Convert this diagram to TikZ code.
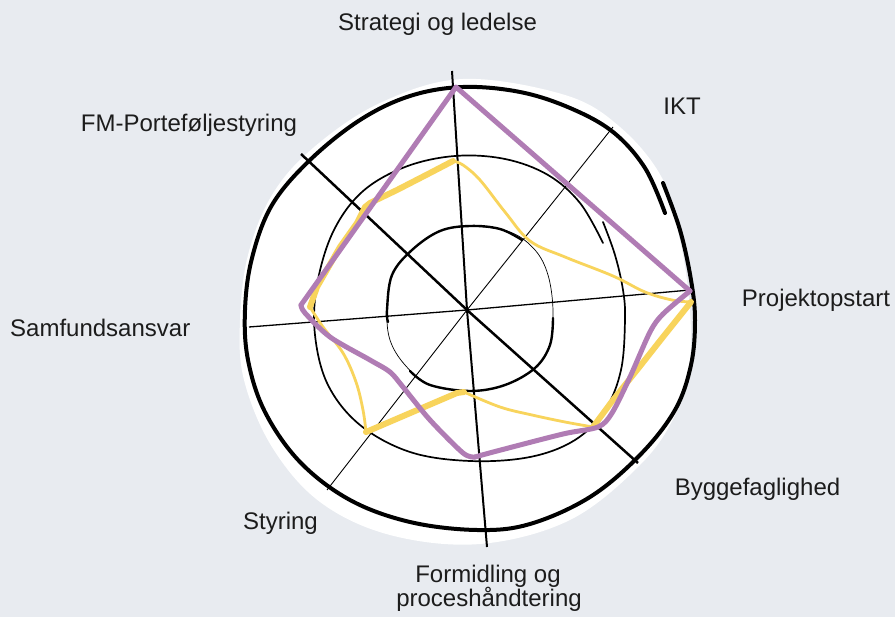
\documentclass[tikz,border=0pt]{standalone}
\usepackage{fontspec}
\setmainfont{Liberation Sans}
\definecolor{bgc}{HTML}{E8EBF0}
\definecolor{txtc}{HTML}{1C1C1C}
\definecolor{yelc}{HTML}{F8D45C}
\definecolor{purc}{HTML}{B07CB4}
\begin{document}
\begin{tikzpicture}[x=1pt,y=-1pt,
  lbl/.style={text=txtc,font=\fontsize{24}{28}\selectfont,inner sep=0pt,anchor=base},
  ringline/.style={draw=black,line cap=round,line join=round},
  axisline/.style={draw=black,line cap=butt},
  yelthick/.style={draw=yelc,line width=6pt,line cap=round,line join=round},
  yelthin/.style={draw=yelc,line width=2.8pt,line cap=round,line join=round},
  purline/.style={draw=purc,line width=5pt,line cap=round,line join=round}]
\fill[bgc] (0,0) rectangle (895,617);
\useasboundingbox (0,0) rectangle (895,617);
% white blob
\fill[white] plot[smooth cycle,tension=0.6] coordinates {(463,79) (565,95) (620,127) (662,178) (680,240) (689,300) (690,360) (675,415) (640,465) (570,520) (480,544) (390,535) (320,502) (272,447) (244,380) (240,320) (248,255) (272,195) (313,148) (380,103)};
% outer ring
\draw[ringline,line width=4pt] plot[smooth,tension=0.6] coordinates {(663,183) (680,230) (691,280) (695,320) (691,365) (675,410) (640,455) (590,497) (530,524) (477,530) (410,522) (350,500) (300,462) (265,412) (248,360) (245,310) (252,258) (272,205) (310,160) (360,120) (410,96) (463,87) (520,92) (570,108) (613,132) (645,168) (665,213)};
% middle ring
\draw[ringline,line width=1.7pt] plot[smooth,tension=0.6] coordinates {(603,222) (615,255) (623,290) (625,320) (621,370) (605,410) (575,440) (530,457) (470,461) (410,452) (360,425) (328,385) (315,335) (317,285) (333,232) (362,192) (405,167) (455,156) (505,159) (548,175) (580,203) (603,243)};
% inner ring
\draw[ringline,line width=0.7pt] plot[smooth cycle,tension=0.6] coordinates {(470,226) (510,232) (535,250) (548,275) (553,310) (550,345) (535,368) (505,385) (470,391) (430,385) (405,365) (390,340) (387,310) (392,275) (412,250) (440,231)};
\draw[ringline,line width=2.4pt] plot[smooth,tension=0.6] coordinates {(388,322) (387,310) (392,275) (412,250) (440,231) (470,226) (500,229) (522,240)};
\draw[ringline,line width=2.4pt] plot[smooth,tension=0.6] coordinates {(553,318) (550,345) (535,368) (505,385) (470,391) (430,385) (410,371)};
% axes
\coordinate (c) at (467,310);
\coordinate (aS) at (452,71);
\coordinate (aF) at (487,547);
\coordinate (aL) at (249,327);
\coordinate (aR) at (690,290);
\coordinate (aFM) at (301,154);
\coordinate (aB) at (638,463);
\coordinate (aI) at (613,127);
\coordinate (aSt) at (327,490);
\draw[axisline,line width=2pt] (aS) -- (c) -- (aF);
\draw[axisline,line width=1.3pt] (aL) -- (c) -- (aR);
\draw[axisline,line width=2.5pt] (aFM) -- (c) -- (aB);
\draw[axisline,line width=0.9pt] (aI) -- (c) -- (aSt);
% yellow series
\draw[yelthick] (453,161) -- (430,173) -- (397,190) -- (370,203) -- (365,207) -- (357,223) -- (340,247) -- (317,287) -- (310,307);
\draw[yelthin] plot[smooth,tension=0.6] coordinates {(310,307) (323,327) (343,353) (356,382) (363,410) (366,432)};
\draw[yelthick] (366,432) -- (457,393) -- (464,392);
\draw[yelthin] plot[smooth,tension=0.6] coordinates {(464,392) (500,407) (532,415) (565,422) (593,427)};
\draw[yelthick] (593,427) -- (613,400) -- (637,370) -- (663,337) -- (691,302);
\draw[yelthin] plot[smooth,tension=0.6] coordinates {(691,302) (672,300) (645,292) (613,276) (565,257) (530,241) (505,212) (480,180) (463,165) (453,161)};
% purple series
\draw[purline] (301,305) -- (456,87) -- (690,291);
\draw[purline] plot[smooth,tension=0.5] coordinates {(690,291) (663,314) (650,332) (630,377) (612,413) (598,427) (563,434) (497,451) (475,457)};
\draw[purline] plot[smooth,tension=0.5] coordinates {(475,457) (463,453) (430,420) (403,387) (390,372) (370,360) (330,337) (305,313) (301,305)};
% labels
\node[lbl] (lS) at (437.5,31) {Strategi og ledelse};
\node[lbl] (lI) at (682,115) {IKT};
\node[lbl] (lFM) at (189,132) {FM-Porteføljestyring};
\node[lbl] (lP) at (816,307) {Projektopstart};
\node[lbl,anchor=base west] (lSa) at (10,337) {Samfundsansvar};
\node[lbl] (lB) at (757.5,496) {Byggefaglighed};
\node[lbl] (lSt) at (280.5,530) {Styring};
\node[lbl] (lF1) at (488,583) {Formidling og};
\node[lbl] (lF2) at (489,606) {proceshåndtering};
\end{tikzpicture}
\end{document}
